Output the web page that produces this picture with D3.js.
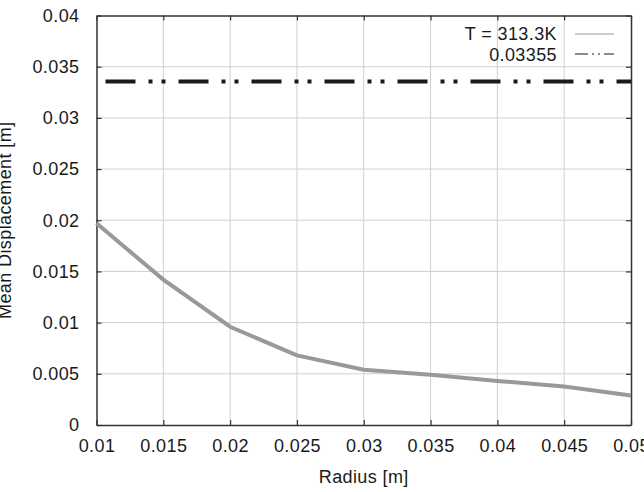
<!DOCTYPE html>
<html>
<head>
<meta charset="utf-8">
<script src="https://cdn.jsdelivr.net/npm/d3@7"></script>
<style>
    body { margin: 0; background: #fff; }
    text { font-family: "Liberation Sans", Arial, sans-serif; }
</style>
</head>
<body>
<div id="chart"></div>
<script>
// radius values and mean displacement
const radius = [0.01, 0.015, 0.02, 0.025, 0.03, 0.035, 0.04, 0.045, 0.05];
const displacement = [0.0197, 0.0142, 0.0096, 0.0068, 0.0054, 0.0049, 0.0043, 0.00376, 0.00289];
const referenceValue = 0.03355;
const xTicks = [0.01, 0.015, 0.02, 0.025, 0.03, 0.035, 0.04, 0.045, 0.05];
const yTicks = [0, 0.005, 0.01, 0.015, 0.02, 0.025, 0.03, 0.035, 0.04];
const legendLabels = ["T = 313.3K", "0.03355"];

const width = 644, height = 492;
const margin = {left: 96.5, right: 13, top: 15.5, bottom: 67};
const fontSize = "18px";
const spacing = "0.4px";

const svg = d3.select("#chart").append("svg")
    .attr("width", width)
    .attr("height", height);

const x = d3.scaleLinear().domain([0.01, 0.05]).range([margin.left, width - margin.right]);
const y = d3.scaleLinear().domain([0, 0.04]).range([height - margin.bottom, margin.top]);

// grid
svg.append("g").selectAll("line.gx")
    .data(xTicks.slice(1, -1))
    .enter().append("line")
    .attr("x1", d => x(d)).attr("x2", d => x(d))
    .attr("y1", y(0)).attr("y2", y(0.04))
    .attr("stroke", "#cfcfcf").attr("stroke-width", 1);

svg.append("g").selectAll("line.gy")
    .data(yTicks.slice(1, -1))
    .enter().append("line")
    .attr("x1", x(0.01)).attr("x2", x(0.05))
    .attr("y1", d => y(d)).attr("y2", d => y(d))
    .attr("stroke", "#cfcfcf").attr("stroke-width", 1);

// axes with inward ticks on all four sides
const fmt = d => d3.format("")(+d.toFixed(4));
const tickLen = 5;

const bottomAxis = svg.append("g")
    .attr("transform", `translate(0,${y(0)})`)
    .call(d3.axisBottom(x).tickValues(xTicks).tickFormat(fmt).tickSizeInner(-tickLen).tickSizeOuter(0).tickPadding(14));
const leftAxis = svg.append("g")
    .attr("transform", `translate(${x(0.01)},0)`)
    .call(d3.axisLeft(y).tickValues(yTicks).tickFormat(fmt).tickSizeInner(-tickLen).tickSizeOuter(0).tickPadding(17));
const topAxis = svg.append("g")
    .attr("transform", `translate(0,${y(0.04)})`)
    .call(d3.axisTop(x).tickValues(xTicks).tickFormat("").tickSizeInner(-tickLen).tickSizeOuter(0));
const rightAxis = svg.append("g")
    .attr("transform", `translate(${x(0.05)},0)`)
    .call(d3.axisRight(y).tickValues(yTicks).tickFormat("").tickSizeInner(-tickLen).tickSizeOuter(0));

[bottomAxis, leftAxis, topAxis, rightAxis].forEach(a => {
    a.select(".domain").attr("stroke", "#333").attr("stroke-width", 1.5);
    a.selectAll(".tick line").attr("stroke", "#333").attr("stroke-width", 1.2);
    a.selectAll(".tick text")
        .attr("fill", "#1a1a1a")
        .style("font-size", fontSize)
        .style("letter-spacing", spacing)
        .style("font-family", "'Liberation Sans', Arial, sans-serif");
});

// reference dash-dot line
const dashPattern = "30,13,4,9,4,13";
svg.append("line")
    .attr("x1", x(0.01)).attr("x2", x(0.05))
    .attr("y1", y(referenceValue)).attr("y2", y(referenceValue))
    .attr("stroke", "#1a1a1a").attr("stroke-width", 4)
    .attr("stroke-dasharray", dashPattern)
    .attr("stroke-dashoffset", 64);

// data line
const line = d3.line().x((d, i) => x(radius[i])).y(d => y(d));
svg.append("path")
    .datum(displacement)
    .attr("d", line)
    .attr("fill", "none")
    .attr("stroke", "#999999")
    .attr("stroke-width", 4);

// legend
const legend = svg.append("g");
const legendY = [34, 55];
legend.selectAll("text")
    .data(legendLabels)
    .enter().append("text")
    .attr("x", 557)
    .attr("y", (d, i) => legendY[i])
    .attr("dy", "0.35em")
    .attr("text-anchor", "end")
    .style("font-size", fontSize)
    .style("letter-spacing", spacing)
    .attr("fill", "#1a1a1a")
    .text(d => d);
legend.append("line")
    .attr("x1", 575).attr("x2", 614)
    .attr("y1", 34).attr("y2", 34)
    .attr("stroke", "#999").attr("stroke-width", 1);
legend.append("line")
    .attr("x1", 575).attr("x2", 614)
    .attr("y1", 54).attr("y2", 54)
    .attr("stroke", "#1a1a1a").attr("stroke-width", 1.2)
    .attr("stroke-dasharray", "13,4,2,4,2,4");

// axis titles
svg.append("text")
    .attr("x", (x(0.01) + x(0.05)) / 2)
    .attr("y", 477)
    .attr("dy", "0.35em")
    .attr("text-anchor", "middle")
    .style("font-size", fontSize)
    .style("letter-spacing", spacing)
    .attr("fill", "#1a1a1a")
    .text("Radius [m]");

svg.append("text")
    .attr("transform", `translate(5,${(y(0) + y(0.04)) / 2}) rotate(-90)`)
    .attr("dy", "0.35em")
    .attr("text-anchor", "middle")
    .style("font-size", fontSize)
    .style("letter-spacing", spacing)
    .attr("fill", "#1a1a1a")
    .text("Mean Displacement [m]");
</script>
</body>
</html>
